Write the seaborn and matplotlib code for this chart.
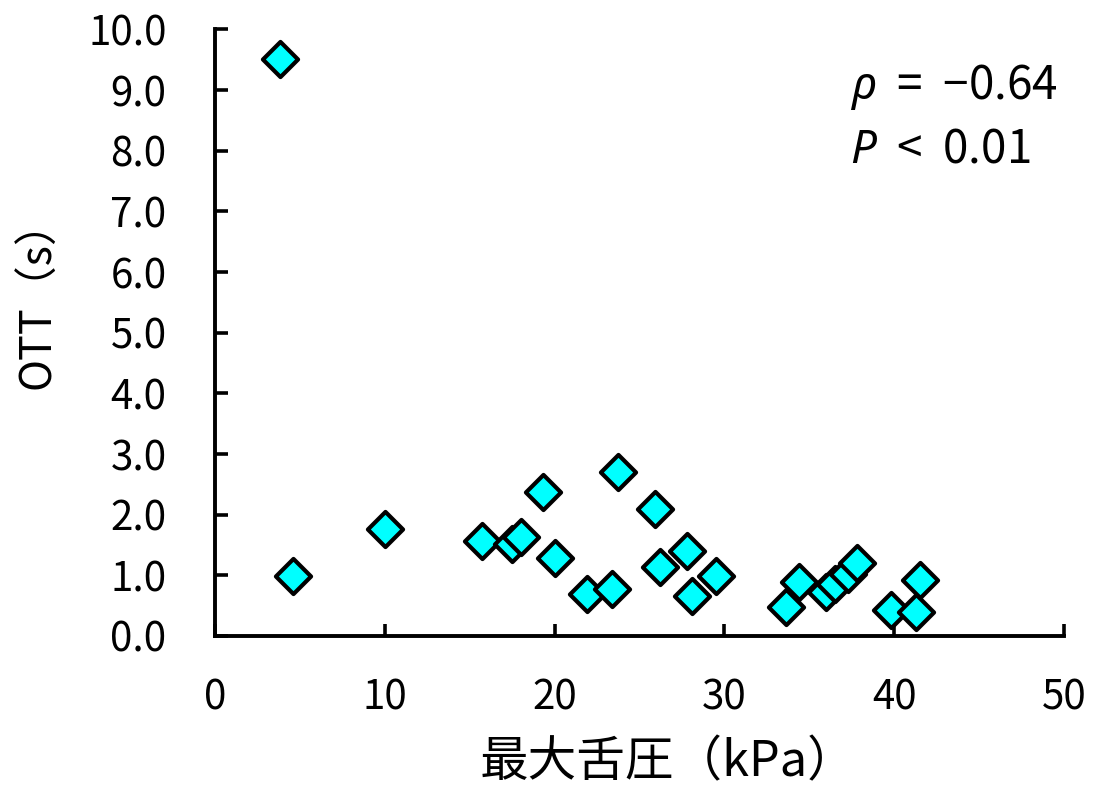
import matplotlib
matplotlib.use("Agg")
import matplotlib.pyplot as plt
import seaborn as sns
import pandas as pd

max_tongue_pressure = [3.8, 4.6, 10.0, 15.7, 17.5, 18.0, 19.3, 20.0, 21.9, 23.4,
                       23.7, 25.9, 26.2, 27.8, 28.1, 29.5, 33.6, 34.4, 36.0, 36.5,
                       37.3, 37.8, 39.8, 41.3, 41.5]
ott_seconds = [9.51, 0.99, 1.76, 1.57, 1.52, 1.63, 2.37, 1.28, 0.70, 0.77,
               2.70, 2.09, 1.14, 1.40, 0.66, 0.99, 0.47, 0.89, 0.72, 0.85,
               1.03, 1.20, 0.43, 0.40, 0.93]
x_ticks = [0, 10, 20, 30, 40, 50]
y_ticks = [0.0, 1.0, 2.0, 3.0, 4.0, 5.0, 6.0, 7.0, 8.0, 9.0, 10.0]
x_label = "最大舌圧（kPa）"
y_label = "OTT（s）"
stat_lines = [r"$\mathit{\rho}$  =  −0.64", r"$\mathit{P}$  <  0.01"]

df = pd.DataFrame({"x": max_tongue_pressure, "y": ott_seconds})

sns.set_theme(style="ticks")
plt.rcParams["font.family"] = ["Noto Sans CJK JP", "DejaVu Sans"]
plt.rcParams["mathtext.fontset"] = "custom"
plt.rcParams["mathtext.rm"] = "Noto Sans"
plt.rcParams["mathtext.it"] = "Noto Sans:italic"
plt.rcParams["text.color"] = "black"
plt.rcParams["axes.labelcolor"] = "black"

fig = plt.figure(figsize=(10.98, 7.94), dpi=100)
ax = fig.add_axes([0.196, 0.199, 0.773, 0.764])

sns.scatterplot(data=df, x="x", y="y", ax=ax, marker="D", s=320,
                color="#00FFFF", edgecolor="black", linewidth=3.0, zorder=3,
                clip_on=False)

ax.set_xlim(0, 50)
ax.set_ylim(0, 10)
ax.set_xticks(x_ticks)
ax.set_xticklabels([str(t) for t in x_ticks])
ax.set_yticks(y_ticks)
ax.set_yticklabels([f"{t:.1f}" for t in y_ticks])
ax.tick_params(direction="in", length=9, width=2.6, labelsize=29,
               colors="black")
ax.tick_params(axis="x", pad=30)
ax.tick_params(axis="y", pad=35)
for sp in ["top", "right"]:
    ax.spines[sp].set_visible(False)
for sp in ["left", "bottom"]:
    ax.spines[sp].set_linewidth(2.8)
    ax.spines[sp].set_color("black")

ax.set_xlabel(x_label, fontsize=35, labelpad=14, x=0.533)
ax.set_ylabel(y_label, fontsize=31)
ax.yaxis.set_label_coords(-0.183, 0.563)

ax.text(0.748, 0.905, stat_lines[0], transform=ax.transAxes, fontsize=33,
        ha="left", va="center")
ax.text(0.748, 0.803, stat_lines[1], transform=ax.transAxes, fontsize=33,
        ha="left", va="center")

fig.savefig("out.png", dpi=100)
